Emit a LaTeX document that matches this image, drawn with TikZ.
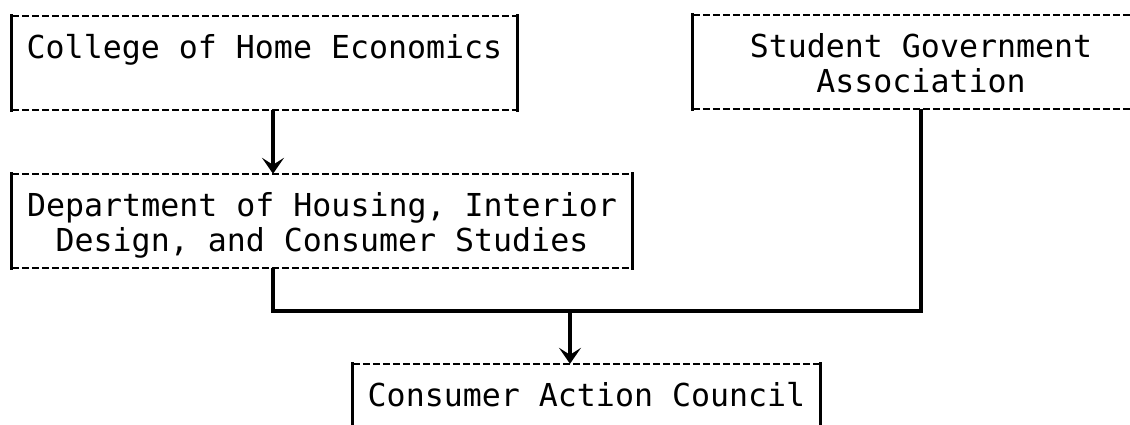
\documentclass[tikz,border=0pt]{standalone}
\usepackage{fontspec}
\setmonofont{DejaVu Sans Mono}
\usetikzlibrary{arrows.meta}

% solid sides, dashed top and bottom
\newcommand{\orgframe}[1]{%
    \draw[sideline] (#1.north west) -- (#1.south west);
    \draw[sideline] (#1.north east) -- (#1.south east);
    \draw[edgeline] (#1.north west) -- (#1.north east);
    \draw[edgeline] (#1.south west) -- (#1.south east);
}

\begin{document}
\begin{tikzpicture}[x=1pt, y=-1pt,
    orgbox/.style={rectangle, inner sep=0pt, align=center, minimum height=94pt, text height=71pt, text depth=10pt, font=\ttfamily\fontsize{31.6}{35}\selectfont},
    sideline/.style={draw=black, line width=3pt, line cap=rect},
    edgeline/.style={draw=black, line width=2pt, dash pattern=on 7pt off 3pt},
    link/.style={draw=black, line width=3.5pt},
    feed/.style={link, -{Stealth[length=16pt, width=22pt, inset=7pt]}}
]
    \useasboundingbox (0,0) rectangle (1130,424);
    \clip (0,0) rectangle (1130,424);

    % Upper row
    \node[orgbox, minimum width=505pt] (COLLEGE) at (264.5,63) {College of Home Economics\\\strut};
    \node[orgbox, minimum width=456pt] (SGA) at (921,62) {Student Government\\Association};

    % Department
    \node[orgbox, minimum width=620pt] (DEPT) at (322,221) {Department of Housing, Interior\\Design, and Consumer Studies};

    % Council at the bottom
    \node[orgbox, minimum width=467pt] (CAC) at (586.5,411) {Consumer Action Council\\\strut};

    \orgframe{COLLEGE}
    \orgframe{SGA}
    \orgframe{DEPT}
    \orgframe{CAC}

    % Connectors
    \coordinate (TRUNK) at (273,311);
    \coordinate (JOIN) at (570,311);
    \draw[feed] (COLLEGE.south -| TRUNK) -- (DEPT.north -| TRUNK);
    \draw[link] (DEPT.south -| TRUNK) -- (TRUNK) -| (SGA.south);
    \draw[feed] (JOIN) -- (CAC.north -| JOIN);
\end{tikzpicture}
\end{document}
